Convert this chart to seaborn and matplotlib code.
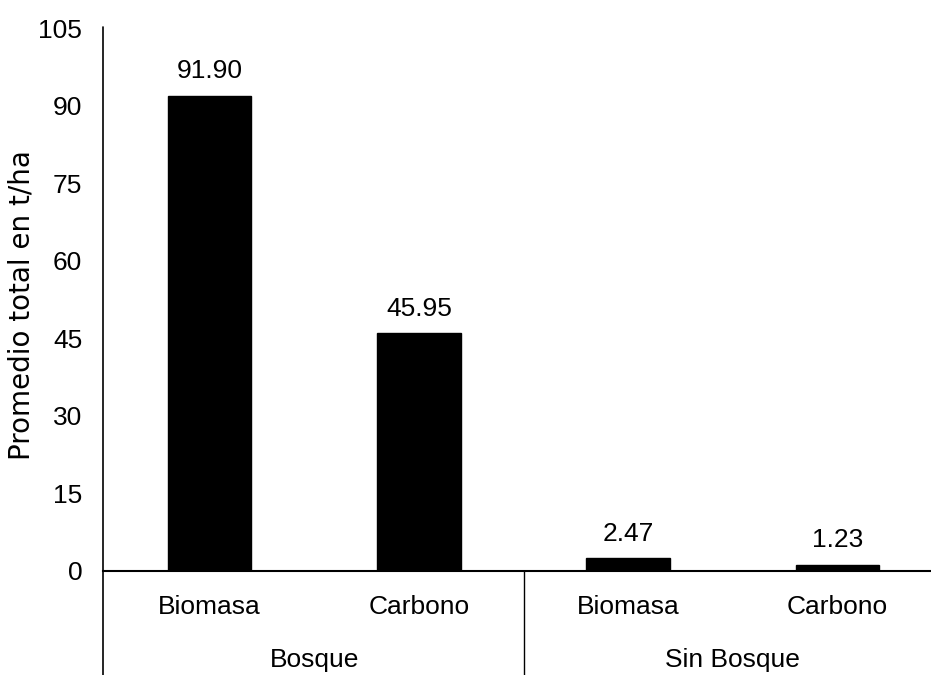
import seaborn as sns
import matplotlib.pyplot as plt
import pandas as pd

# datos
grupos = ["Bosque", "Bosque", "Sin Bosque", "Sin Bosque"]
variables = ["Biomasa", "Carbono", "Biomasa", "Carbono"]
valores = [91.90, 45.95, 2.47, 1.23]
yticks = [0, 15, 30, 45, 60, 75, 90, 105]

df = pd.DataFrame({"grupo": grupos, "variable": variables, "valor": valores})
df["clase"] = df["grupo"] + " - " + df["variable"]

sns.set_style("white")
plt.rcParams["font.family"] = ["Liberation Sans", "DejaVu Sans"]
for k in ["text.color", "axes.labelcolor", "xtick.color", "ytick.color"]:
    plt.rcParams[k] = "black"

fig = plt.figure(figsize=(9.31, 6.75), dpi=100)
ax = fig.add_axes([103 / 931, 1 - 571 / 675, 828 / 931, 543 / 675])

sns.barplot(data=df, x="clase", y="valor", order=list(df["clase"]),
            color="black", width=0.40, ax=ax, errorbar=None, saturation=1)
for p in ax.patches:
    p.set_edgecolor("black")

ax.set_xlim(-0.5096, 3.447)
ax.set_ylim(0, 105)
ax.set_yticks(yticks)
ax.tick_params(axis="y", length=0, pad=15, labelsize=19)
ax.set_xticks(range(len(variables)))
ax.set_xticklabels(variables, fontsize=19)
ax.tick_params(axis="x", length=0, pad=17)
ax.set_xlabel("")

ax.set_ylabel("Promedio total en t/ha", fontsize=20, family=["DejaVu Sans"])
ax.yaxis.set_label_coords(-81 / 828, 0.49)
ax.yaxis.label.set_va("center")

ax.bar_label(ax.containers[0], fmt="%.2f", padding=9, fontsize=19)

# ejes: solo izquierda y abajo, la izquierda baja hasta el borde
for s in ["top", "right", "left"]:
    ax.spines[s].set_visible(False)
ax.spines["bottom"].set_color("black")
ax.spines["bottom"].set_linewidth(1.5)
ax.plot([0, 0], [-0.2, 1.002], color="black", lw=1.2,
        transform=ax.transAxes, clip_on=False)

# separador y nombres de grupo
trans = ax.get_xaxis_transform()
ax.plot([1.5, 1.5], [0, -0.2], color="black", lw=1.0,
        transform=trans, clip_on=False)
for xpos, nombre in [(0.5, "Bosque"), (2.5, "Sin Bosque")]:
    ax.text(xpos, -89 / 543, nombre, transform=trans, ha="center",
            va="center", fontsize=19)

fig.savefig("out.png", dpi=100)
